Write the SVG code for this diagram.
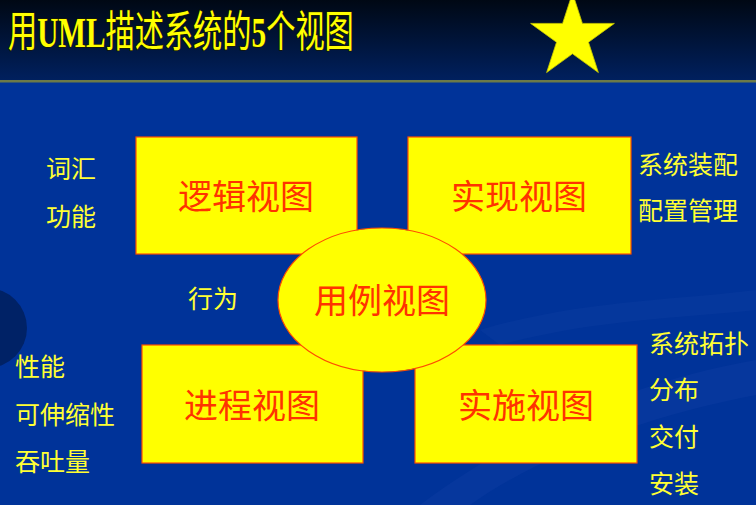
<svg xmlns="http://www.w3.org/2000/svg" width="756" height="505" viewBox="0 0 756 505">
<defs>
<linearGradient id="topg" x1="0" y1="0" x2="0" y2="1">
<stop offset="0" stop-color="#000814"/>
<stop offset="1" stop-color="#00205e"/>
</linearGradient>
<style>
.box{fill:#ffff00;stroke:#ff4d00;stroke-width:1.2}
.lbl{font-family:"Noto Sans CJK SC","Noto Sans",sans-serif;font-size:34px;fill:#ff3300;text-anchor:middle;dominant-baseline:central}
.side{font-family:"Noto Sans CJK SC","Noto Sans",sans-serif;font-size:25px;fill:#ffff33;dominant-baseline:central}
.ttl{font-family:"Liberation Serif","Noto Sans CJK SC",serif;font-size:43px;dominant-baseline:central;fill:#ffff00;stroke:#1a1a00;stroke-width:1.5;paint-order:stroke}
</style>
</defs>
<rect x="0" y="0" width="756" height="505" fill="#003399"/>
<path d="M420 505 C520 430 640 380 756 360 L756 395 C650 415 540 455 470 505 Z" fill="#0a3ba0" opacity="0.6"/>
<path d="M480 330 C580 300 680 300 756 290 L756 310 C680 318 590 320 500 345 Z" fill="#0a3ba0" opacity="0.5"/>
<circle cx="-13" cy="328" r="40" fill="#002266"/>
<rect x="0" y="0" width="756" height="80" fill="url(#topg)"/>
<rect x="0" y="80" width="756" height="2.5" fill="#6b7a48"/>
<g id="title">
<text class="ttl" transform="translate(8,32) scale(0.68,1)" x="0" y="0">用<tspan font-weight="bold">UML</tspan>描述系统的<tspan font-weight="bold">5</tspan>个视图</text>
<polygon fill="#ffff00" stroke="#c8c800" stroke-width="0.8" points="572.5,-7 582.4,23.4 614.4,23.4 588.5,42.2 598.4,72.6 572.5,53.8 546.6,72.6 556.5,42.2 530.6,23.4 562.6,23.4"/>
</g>
<g id="connectors"/>
<g id="logical-view">
<rect class="box" x="136" y="137" width="221" height="117"/>
<text class="lbl" x="246" y="194">逻辑视图</text>
</g>
<g id="implementation-view">
<rect class="box" x="408" y="137" width="223" height="117"/>
<text class="lbl" x="519" y="194">实现视图</text>
</g>
<g id="process-view">
<rect class="box" x="142" y="345" width="221" height="118"/>
<text class="lbl" x="252" y="403">进程视图</text>
</g>
<g id="deployment-view">
<rect class="box" x="415" y="345" width="222" height="118"/>
<text class="lbl" x="526" y="403">实施视图</text>
</g>
<g id="use-case-view">
<ellipse class="box" cx="382" cy="300" rx="104" ry="72"/>
<text class="lbl" x="382" y="298">用例视图</text>
</g>
<g id="labels">
<text class="side" x="46" y="167">词汇</text>
<text class="side" x="46" y="215">功能</text>
<text class="side" x="638" y="163">系统装配</text>
<text class="side" x="638" y="209">配置管理</text>
<text class="side" x="188" y="297">行为</text>
<text class="side" x="15" y="365">性能</text>
<text class="side" x="15" y="413">可伸缩性</text>
<text class="side" x="15" y="460">吞吐量</text>
<text class="side" x="649" y="342">系统拓扑</text>
<text class="side" x="649" y="388">分布</text>
<text class="side" x="649" y="435">交付</text>
<text class="side" x="649" y="482">安装</text>
</g>
</svg>
